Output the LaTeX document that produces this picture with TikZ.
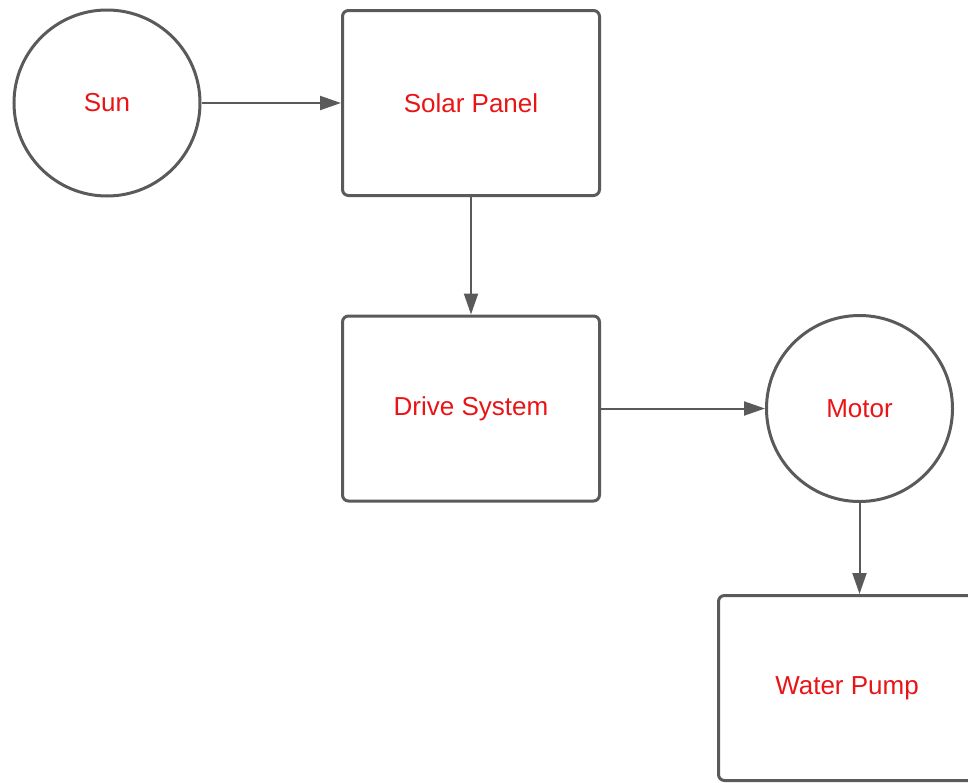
\documentclass[tikz,border=0pt]{standalone}
\usepackage{fontspec}
\setmainfont{Liberation Sans}
\usetikzlibrary{arrows.meta}
\definecolor{linegray}{RGB}{90,90,90}
\definecolor{labelred}{RGB}{232,20,22}
\begin{document}
\begin{tikzpicture}[x=1pt,y=-1pt,
  boxnode/.style={draw=linegray, line width=3pt, rounded corners=6pt, minimum width=257pt, minimum height=185pt, inner sep=0pt, text=labelred, font=\fontsize{26}{30}\selectfont},
  circnode/.style={draw=linegray, line width=3pt, circle, minimum size=186pt, inner sep=0pt, text=labelred, font=\fontsize{26}{30}\selectfont},
  conn/.style={draw=linegray, line width=2pt, -{Triangle[length=21pt,width=14pt]}}]
\useasboundingbox (0,0) rectangle (968,782);
\clip (0,0) rectangle (968,782);
\node[circnode] (sun) at (107,103) {Sun};
\node[boxnode] (solar) at (471,103) {Solar Panel};
\node[boxnode] (drive) at (471,408.5) {Drive System};
\node[circnode] (motor) at (859.5,408.5) {Motor};
\node[boxnode] (pump) at (847,688) {Water Pump};
\draw[conn] (sun.east) -- (solar.west);
\draw[conn] (solar.south) -- (drive.north);
\draw[conn] (drive.east) -- (motor.west);
\draw[conn] (motor.south) -- (motor.south |- pump.north);
\end{tikzpicture}
\end{document}
